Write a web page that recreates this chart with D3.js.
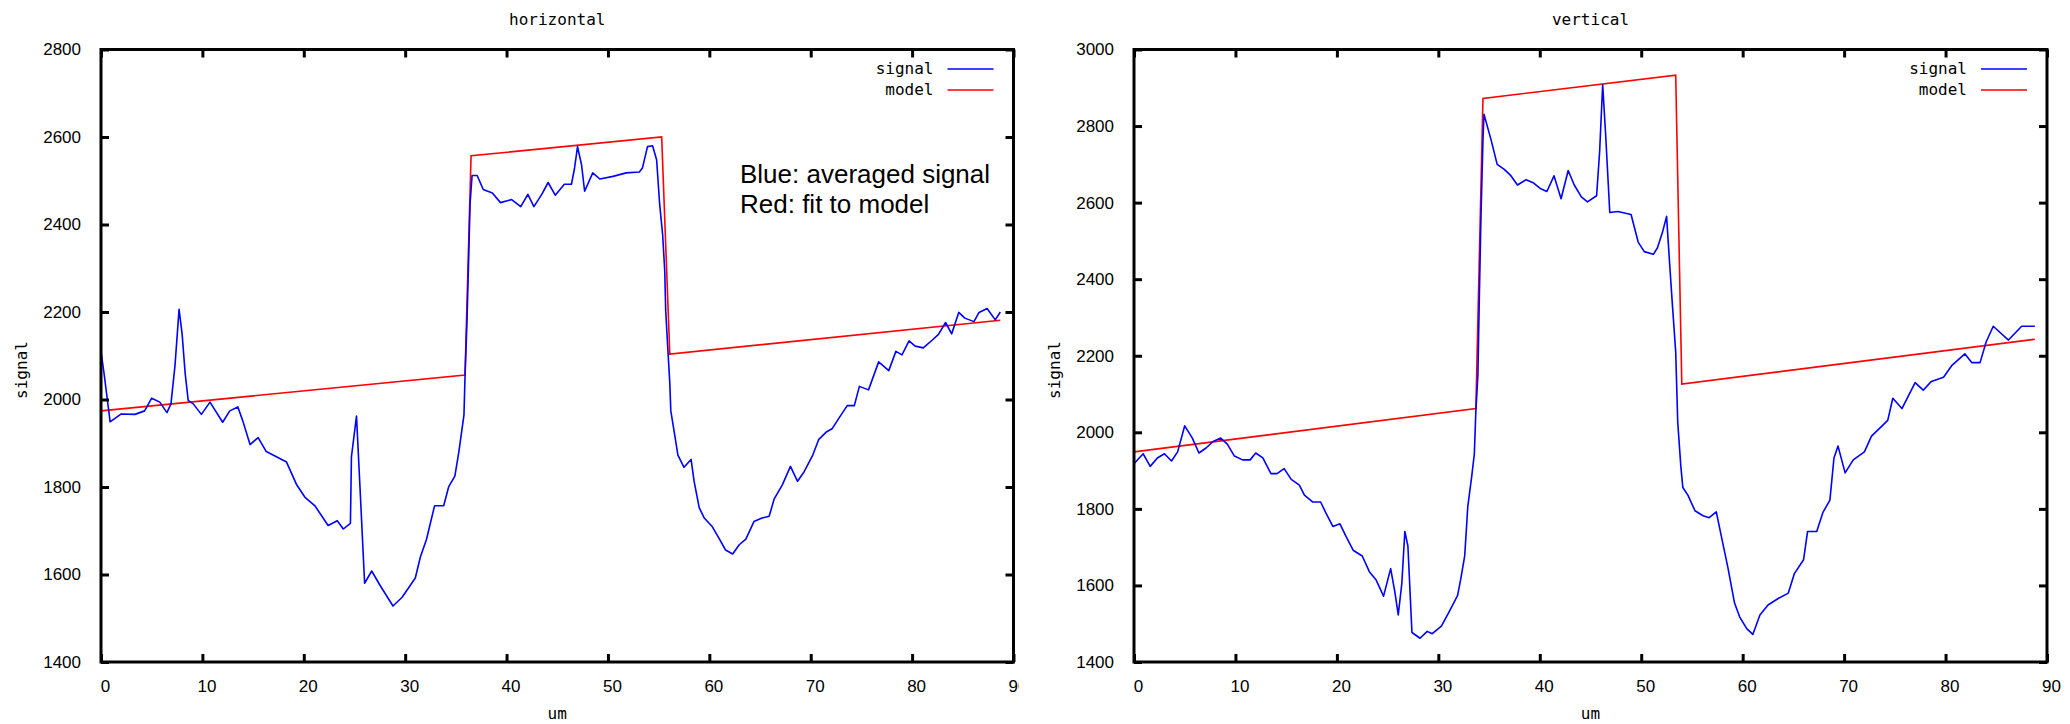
<!DOCTYPE html>
<html>
<head>
<meta charset="utf-8">
<script src="https://cdn.jsdelivr.net/npm/d3@7"></script>
<style>
  html, body { margin: 0; padding: 0; background: #fff; }
  svg { display: block; }
</style>
</head>
<body>
<div id="chart"></div>
<script>
/* two gnuplot-style panels: horizontal / vertical profile, signal + model fit */

var xTicks = [0, 10, 20, 30, 40, 50, 60, 70, 80, 90];
var hYTicks = [1400, 1600, 1800, 2000, 2200, 2400, 2600, 2800];
var vYTicks = [1400, 1600, 1800, 2000, 2200, 2400, 2600, 2800, 3000];

var seriesNames = ['signal', 'model'];
var notes = ['Blue: averaged signal', 'Red: fit to model'];

/* [um, signal] */
var hSignal = [
  [0, 2110], [0.3, 2060], [0.9, 1949], [2.0, 1967], [3.35, 1966], [4.3, 1974],
  [5.0, 2003], [5.8, 1994], [6.5, 1970], [6.9, 1990], [7.3, 2078], [7.7, 2206],
  [8.0, 2150], [8.3, 2060], [8.6, 1998], [9.1, 1990], [9.9, 1966], [10.75, 1994],
  [12.0, 1948], [12.7, 1974], [13.5, 1983], [14.0, 1950], [14.7, 1897], [15.5, 1913],
  [16.3, 1881], [17.3, 1869], [18.3, 1857], [19.3, 1805], [20.1, 1777], [21.1, 1757],
  [22.4, 1712], [23.3, 1723], [23.9, 1704], [24.6, 1717], [24.7, 1869], [25.2, 1962],
  [25.6, 1773], [26.0, 1580], [26.7, 1608], [27.5, 1576], [28.8, 1528], [29.7, 1548],
  [31.0, 1592], [31.5, 1640], [32.1, 1680], [32.9, 1757], [33.8, 1757], [34.3, 1801],
  [34.9, 1825], [35.3, 1881], [35.8, 1965], [35.9, 2050], [36.1, 2182], [36.25, 2311],
  [36.4, 2447], [36.6, 2512], [37.1, 2512], [37.7, 2480], [38.6, 2472], [39.4, 2450],
  [40.5, 2457], [41.4, 2441], [42.1, 2469], [42.7, 2441], [43.5, 2470], [44.1, 2496],
  [44.8, 2467], [45.7, 2492], [46.4, 2492], [46.7, 2528], [47.0, 2578], [47.4, 2536],
  [47.7, 2476], [48.5, 2518], [49.2, 2504], [50.5, 2510], [51.8, 2518], [53.1, 2520],
  [53.4, 2529], [53.9, 2578], [54.4, 2580], [54.8, 2548], [55.1, 2447], [55.4, 2375],
  [55.6, 2295], [55.7, 2202], [55.9, 2118], [56.1, 2038], [56.2, 1974], [56.6, 1917],
  [56.9, 1873], [57.5, 1845], [58.2, 1863], [58.5, 1813], [59.0, 1753], [59.5, 1729],
  [60.3, 1709], [61.0, 1681], [61.6, 1656], [62.3, 1647], [62.95, 1668], [63.6, 1681],
  [64.4, 1721], [65.2, 1729], [65.9, 1733], [66.4, 1773], [67.2, 1805], [68.0, 1847],
  [68.7, 1813], [69.3, 1833], [70.2, 1873], [70.8, 1909], [71.5, 1925], [72.1, 1933],
  [72.8, 1958], [73.6, 1986], [74.3, 1986], [74.8, 2030], [75.7, 2022], [76.7, 2086],
  [77.7, 2066], [78.4, 2110], [79.0, 2102], [79.7, 2134], [80.3, 2122], [81.1, 2118],
  [82.0, 2136], [82.6, 2149], [83.3, 2176], [83.9, 2150], [84.6, 2199], [85.2, 2186],
  [86.1, 2178], [86.6, 2199], [87.4, 2208], [88.2, 2182], [88.7, 2200]
];

var hModel = [
  [0, 1974], [35.9, 2056], [36.5, 2557], [55.3, 2600], [56.1, 2104], [88.7, 2181]
];

var vSignal = [
  [0, 1918], [0.9, 1944], [1.6, 1911], [2.3, 1933], [3.0, 1944], [3.7, 1925],
  [4.3, 1949], [5.0, 2017], [5.75, 1985], [6.4, 1946], [7.1, 1959], [7.8, 1976],
  [8.55, 1985], [9.2, 1969], [9.9, 1938], [10.7, 1928], [11.45, 1928], [12.0, 1946],
  [12.7, 1933], [13.5, 1892], [14.1, 1892], [14.8, 1905], [15.5, 1877], [16.3, 1862],
  [16.8, 1836], [17.6, 1818], [18.4, 1818], [18.9, 1790], [19.6, 1754], [20.3, 1761],
  [20.9, 1728], [21.6, 1692], [22.5, 1677], [23.2, 1636], [23.85, 1615], [24.6, 1572],
  [25.3, 1644], [25.7, 1585], [26.05, 1523], [26.4, 1605], [26.7, 1741], [27.0, 1703],
  [27.4, 1477], [28.2, 1462], [28.9, 1480], [29.4, 1474], [30.3, 1494], [31.1, 1533],
  [31.9, 1574], [32.2, 1615], [32.6, 1677], [32.9, 1805], [33.3, 1887], [33.55, 1944],
  [33.7, 2056], [33.9, 2149], [34.05, 2364], [34.2, 2559], [34.4, 2764], [34.5, 2831],
  [35.2, 2764], [35.8, 2700], [36.5, 2687], [37.1, 2672], [37.8, 2646], [38.65, 2660],
  [39.4, 2651], [40.1, 2636], [40.7, 2629], [41.4, 2670], [42.1, 2610], [42.8, 2684],
  [43.4, 2646], [44.1, 2615], [44.7, 2602], [45.6, 2618], [45.9, 2733], [46.2, 2908],
  [46.5, 2774], [46.9, 2574], [47.7, 2577], [49.0, 2569], [49.7, 2497], [50.3, 2472],
  [51.2, 2465], [51.6, 2482], [52.1, 2523], [52.5, 2564], [52.8, 2441], [53.1, 2323],
  [53.4, 2210], [53.6, 2026], [53.9, 1913], [54.1, 1856], [54.6, 1836], [55.3, 1795],
  [56.1, 1782], [56.7, 1777], [57.4, 1792], [57.9, 1728], [58.55, 1646], [59.2, 1554],
  [59.7, 1518], [60.4, 1487], [61.0, 1472], [61.7, 1523], [62.5, 1549], [63.5, 1566],
  [64.5, 1580], [65.1, 1631], [66.0, 1667], [66.4, 1741], [67.3, 1741], [67.9, 1790],
  [68.6, 1823], [69.0, 1933], [69.4, 1964], [70.1, 1894], [70.9, 1928], [72.0, 1949],
  [72.7, 1990], [74.3, 2031], [74.8, 2089], [75.7, 2062], [77.0, 2130], [77.8, 2110],
  [78.6, 2133], [79.8, 2144], [80.6, 2174], [81.9, 2205], [82.6, 2182], [83.4, 2182],
  [84.0, 2236], [84.7, 2277], [86.2, 2241], [87.5, 2277], [88.8, 2277]
];

var vModel = [
  [0, 1949], [33.7, 2062], [34.4, 2872], [53.4, 2933], [54.0, 2126], [88.8, 2243]
];

(function drawProfiles() {
  var W = 2070, H = 724;
  var MONO = '"DejaVu Sans Mono", "Liberation Mono", monospace';
  var SANS = '"Liberation Sans", Arial, sans-serif';
  var TICK = 8;

  var svg = d3.select('#chart').append('svg')
    .attr('width', W).attr('height', H)
    .attr('viewBox', '0 0 ' + W + ' ' + H);

  var panels = [
    { title: 'horizontal', left: 101, right: 1013.5, clipRight: 1019,
      yDomain: [1400, 2800], yTicks: hYTicks, signal: hSignal, model: hModel, notes: true },
    { title: 'vertical', left: 1134, right: 2047, clipRight: W,
      yDomain: [1400, 3000], yTicks: vYTicks, signal: vSignal, model: vModel, notes: false }
  ];
  var top = 49.5, bottom = 662;

  panels.forEach(function (p, i) {
    /* each gnuplot png was cropped on the right; keep that edge */
    svg.append('clipPath').attr('id', 'clip' + i)
      .append('rect').attr('x', p.left - 110).attr('y', 0)
      .attr('width', p.clipRight - p.left + 110).attr('height', H);
    var g = svg.append('g').attr('clip-path', 'url(#clip' + i + ')');

    var x = d3.scaleLinear().domain([0, 90]).range([p.left, p.right]);
    var y = d3.scaleLinear().domain(p.yDomain).range([bottom, top]);

    /* data lines */
    var line = d3.line().x(function (d) { return x(d[0]); }).y(function (d) { return y(d[1]); });
    g.append('path').datum(p.model)
      .attr('d', line).attr('fill', 'none')
      .attr('stroke', '#ff0000').attr('stroke-width', 1.6);
    g.append('path').datum(p.signal)
      .attr('d', line).attr('fill', 'none')
      .attr('stroke', '#0000ff').attr('stroke-width', 1.6)
      .attr('stroke-linejoin', 'round');

    /* axes: ticks inward, mirrored on the opposite sides */
    var axB = d3.axisBottom(x).tickValues(xTicks).tickSize(-TICK).tickPadding(18).tickFormat(d3.format('d'));
    var axT = d3.axisTop(x).tickValues(xTicks).tickSize(-TICK).tickFormat('');
    var axL = d3.axisLeft(y).tickValues(p.yTicks).tickSize(-TICK).tickPadding(20).tickFormat(d3.format('d'));
    var axR = d3.axisRight(y).tickValues(p.yTicks).tickSize(-TICK).tickFormat('');

    [[axB, 'translate(0,' + bottom + ')'], [axT, 'translate(0,' + top + ')'],
     [axL, 'translate(' + p.left + ',0)'], [axR, 'translate(' + p.right + ',0)']]
      .forEach(function (a) {
        var ag = g.append('g').attr('transform', a[1]).call(a[0]);
        ag.select('.domain').remove();
        ag.selectAll('line').attr('stroke', '#000').attr('stroke-width', 3);
        ag.selectAll('text').attr('font-family', SANS).attr('font-size', 17).attr('fill', '#000');
      });
    g.selectAll('.tick text').filter(function () { return d3.select(this).attr('dy') === '0.71em'; })
      .attr('dx', 4);

    /* border */
    g.append('rect')
      .attr('x', p.left).attr('y', top)
      .attr('width', p.right - p.left).attr('height', bottom - top)
      .attr('fill', 'none').attr('stroke', '#000').attr('stroke-width', 3);

    /* title, axis labels */
    g.append('text')
      .attr('x', (p.left + p.right) / 2).attr('y', 25)
      .attr('text-anchor', 'middle')
      .attr('font-family', MONO).attr('font-size', 16)
      .text(p.title);
    g.append('text')
      .attr('x', (p.left + p.right) / 2).attr('y', 719)
      .attr('text-anchor', 'middle')
      .attr('font-family', MONO).attr('font-size', 16)
      .text('um');
    g.append('text')
      .attr('transform', 'translate(' + (p.left - 74) + ',370) rotate(-90)')
      .attr('text-anchor', 'middle')
      .attr('font-family', MONO).attr('font-size', 16)
      .text('signal');

    /* key */
    var keyColors = ['#0000ff', '#ff0000'];
    seriesNames.forEach(function (name, k) {
      var ky = 69 + k * 21;
      g.append('text')
        .attr('x', p.right - 80).attr('y', ky + 5)
        .attr('text-anchor', 'end')
        .attr('font-family', MONO).attr('font-size', 16)
        .text(name);
      g.append('line')
        .attr('x1', p.right - 66).attr('x2', p.right - 20)
        .attr('y1', ky).attr('y2', ky)
        .attr('stroke', keyColors[k]).attr('stroke-width', 1.6);
    });

    /* annotation pasted on the first panel */
    if (p.notes) {
      notes.forEach(function (t, n) {
        g.append('text')
          .attr('x', 740).attr('y', 183 + n * 30)
          .attr('font-family', SANS).attr('font-size', 26)
          .attr('fill', '#000')
          .text(t);
      });
    }
  });
}());
</script>
</body>
</html>
